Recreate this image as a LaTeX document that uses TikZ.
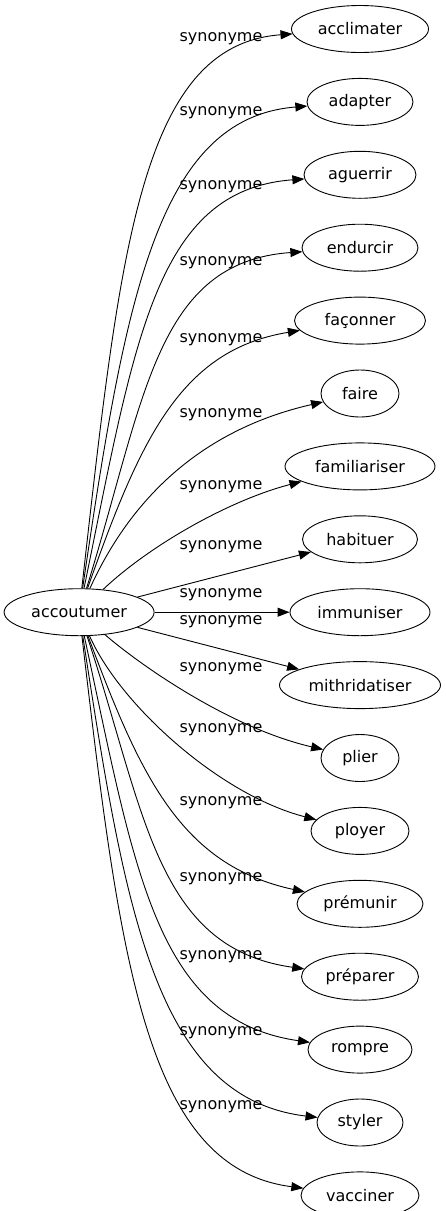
\documentclass[tikz,border=0pt]{standalone}
\usepackage{fontspec}
\setmainfont{DejaVu Sans}
\usetikzlibrary{shapes.geometric, arrows.meta, positioning}

\begin{document}
\begin{tikzpicture}[x=1pt, y=1pt, node distance=25pt,
  word/.style={draw, ellipse, line width=0.9pt, minimum height=47pt, inner sep=0pt, font=\fontsize{16}{19}\selectfont},
  syn/.style={-{Triangle[length=12pt, width=9pt]}, line width=0.9pt},
  lbl/.style={font=\fontsize{16}{19}\selectfont, inner sep=0pt}]
  \useasboundingbox (0,0) rectangle (446,-1211);
  % Target words: one column
  \node[word, minimum width=137pt] (acclimater) at (360,-29) {acclimater};
  \node[word, minimum width=106pt, below=of acclimater] (adapter) {adapter};
  \node[word, minimum width=112pt, below=of adapter] (aguerrir) {aguerrir};
  \node[word, minimum width=116pt, below=of aguerrir] (endurcir) {endurcir};
  \node[word, minimum width=131pt, below=of endurcir] (faconner) {façonner};
  \node[word, minimum width=78pt, below=of faconner] (faire) {faire};
  \node[word, minimum width=150pt, below=of faire] (familiariser) {familiariser};
  \node[word, minimum width=115pt, below=of familiariser] (habituer) {habituer};
  \node[word, minimum width=140pt, below=of habituer] (immuniser) {immuniser};
  \node[word, minimum width=161pt, below=of immuniser] (mithridatiser) {mithridatiser};
  \node[word, minimum width=78pt, below=of mithridatiser] (plier) {plier};
  \node[word, minimum width=98pt, below=of plier] (ployer) {ployer};
  \node[word, minimum width=126pt, below=of ployer] (premunir) {prémunir};
  \node[word, minimum width=117pt, below=of premunir] (preparer) {préparer};
  \node[word, minimum width=104pt, below=of preparer] (rompre) {rompre};
  \node[word, minimum width=86pt, below=of rompre] (styler) {styler};
  \node[word, minimum width=118pt, below=of styler] (vacciner) {vacciner};
  % Source word
  \node[word, minimum width=150pt, left=135pt of immuniser] (accoutumer) {accoutumer};
  % Edges with labels
  \draw[syn] (accoutumer) .. controls (120,-250) and (140,-45) .. (acclimater) node[lbl] at (221,-39) {synonyme};
  \draw[syn] (accoutumer) .. controls (125,-300) and (157,-118) .. (adapter) node[lbl] at (221,-113) {synonyme};
  \draw[syn] (accoutumer) .. controls (135,-340) and (155,-190) .. (aguerrir) node[lbl] at (221,-187) {synonyme};
  \draw[syn] (accoutumer) .. controls (145,-400) and (155,-262) .. (endurcir) node[lbl] at (221,-263) {synonyme};
  \draw[syn] (accoutumer) .. controls (140,-440) and (180,-350) .. (faconner) node[lbl] at (221,-340) {synonyme};
  \draw[syn] (accoutumer) .. controls (130,-500) and (200,-430) .. (faire) node[lbl] at (221,-415) {synonyme};
  \draw[syn] (accoutumer) .. controls (150,-545) and (230,-500) .. (familiariser) node[lbl] at (221,-487) {synonyme};
  \draw[syn] (accoutumer) -- (habituer) node[lbl] at (221,-547) {synonyme};
  \draw[syn] (accoutumer) -- (immuniser) node[lbl] at (221,-595) {synonyme};
  \draw[syn] (accoutumer) -- (mithridatiser) node[lbl] at (221,-622) {synonyme};
  \draw[syn] (accoutumer) .. controls (140,-665) and (230,-728) .. (plier) node[lbl] at (221,-669) {synonyme};
  \draw[syn] (accoutumer) .. controls (120,-705) and (220,-795) .. (ployer) node[lbl] at (221,-730) {synonyme};
  \draw[syn] (accoutumer) .. controls (140,-775) and (180,-865) .. (premunir) node[lbl] at (221,-803) {synonyme};
  \draw[syn] (accoutumer) .. controls (145,-810) and (155,-948) .. (preparer) node[lbl] at (221,-879) {synonyme};
  \draw[syn] (accoutumer) .. controls (135,-870) and (155,-1020) .. (rompre) node[lbl] at (221,-957) {synonyme};
  \draw[syn] (accoutumer) .. controls (125,-910) and (155,-1098) .. (styler) node[lbl] at (221,-1033) {synonyme};
  \draw[syn] (accoutumer) .. controls (120,-960) and (145,-1168) .. (vacciner) node[lbl] at (221,-1107) {synonyme};
\end{tikzpicture}
\end{document}
